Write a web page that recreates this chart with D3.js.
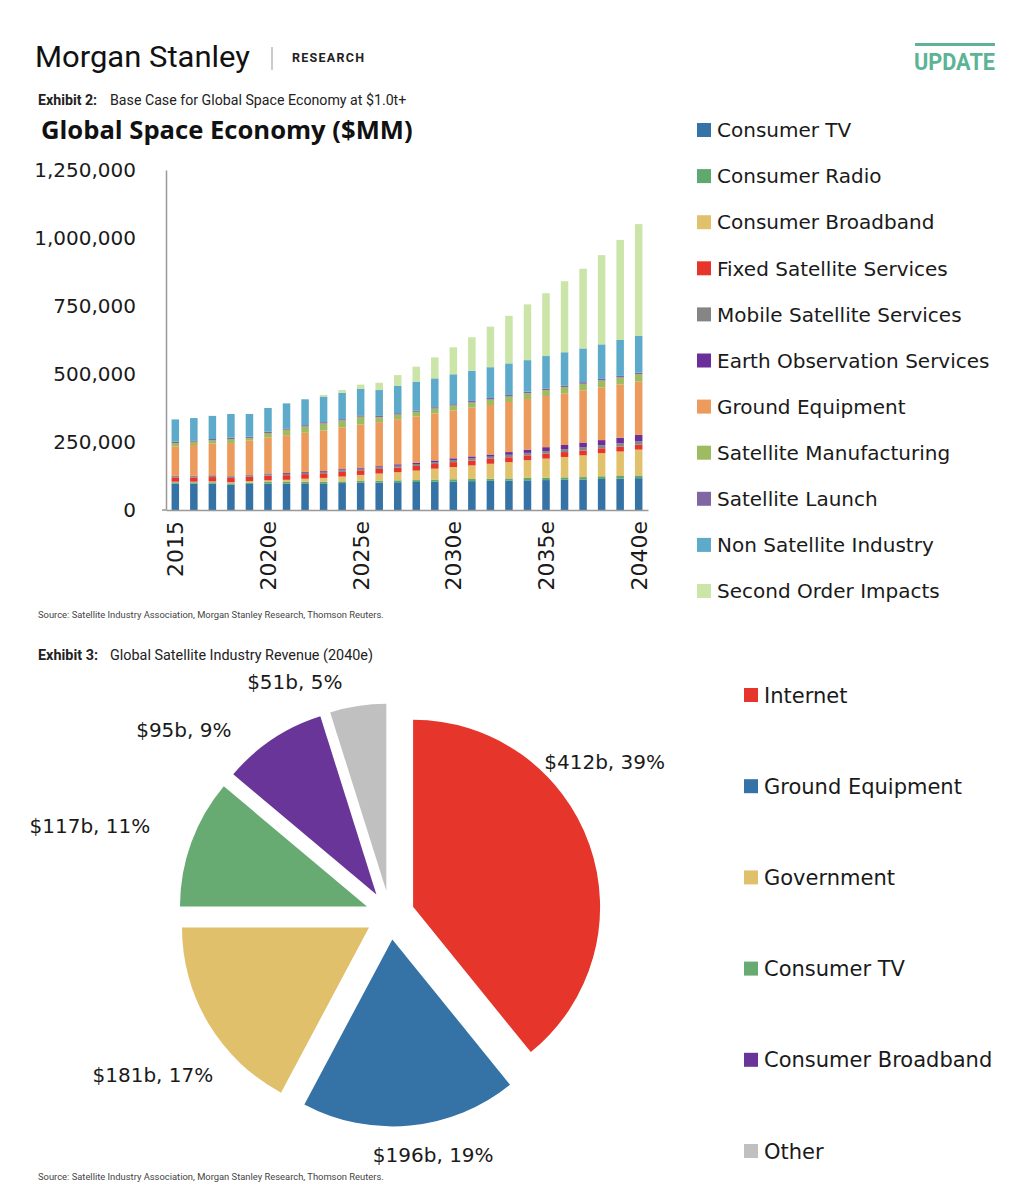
<!DOCTYPE html>
<html>
<head>
<meta charset="utf-8">
<script src="https://cdn.jsdelivr.net/npm/d3@7/dist/d3.min.js"></script>
<style>
  html, body { margin: 0; padding: 0; background: #fff; }
  svg { display: block; }
</style>
</head>
<body>
<svg id="chart" width="1024" height="1200"></svg>
<script>
// ---------------- DATA ----------------
const years = ["2015","2016","2017e","2018e","2019e","2020e","2021e","2022e","2023e","2024e","2025e",
  "2026e","2027e","2028e","2029e","2030e","2031e","2032e","2033e","2034e","2035e","2036e","2037e","2038e","2039e","2040e"];
const yearTickLabels = ["2015","2020e","2025e","2030e","2035e","2040e"];
const yTickValues = [0, 250000, 500000, 750000, 1000000, 1250000];

const seriesNames = ["Consumer TV","Consumer Radio","Consumer Broadband","Fixed Satellite Services",
  "Mobile Satellite Services","Earth Observation Services","Ground Equipment","Satellite Manufacturing",
  "Satellite Launch","Non Satellite Industry","Second Order Impacts"];

// values in $MM
const consumerTV = [97000,97000,97000,93000,96000,97000,97000,98000,98000,99000,100000,101000,102000,103000,104000,105000,106000,107000,108000,109000,110000,111000,112000,114000,115000,117000];
const consumerRadio = [5000,5000,5000,5000,5000,6000,6000,6000,6000,6000,7000,7000,7000,7000,8000,8000,8000,8000,8000,9000,9000,9000,9000,10000,10000,10000];
const consumerBroadband = [2000,2000,3000,4000,5000,6000,8000,11000,14000,18000,22000,26000,30000,35000,40000,45000,50000,55000,60000,65000,70000,75000,80000,85000,90000,95000];
const fixedSatellite = [16000,16000,16000,16000,16000,17000,17000,17000,17000,17000,17000,17000,17000,17000,17000,18000,18000,18000,18000,18000,18000,18000,18000,18000,18000,18000];
const mobileSatellite = [4000,4000,4000,4000,4000,5000,5000,5000,5000,6000,6000,6000,7000,7000,7000,8000,8000,8000,9000,9000,10000,10000,11000,11000,12000,13000];
const earthObservation = [2000,2000,2000,2000,2000,3000,3000,3000,3000,4000,4000,4000,5000,5000,6000,6000,7000,8000,10000,12000,14000,16000,18000,19000,21000,23000];
const groundEquipment = [108000,113000,117000,122000,127000,133000,139000,144000,149000,154000,158000,162000,166000,170000,173000,176000,179000,182000,184000,186000,188000,190000,192000,194000,195000,196000];
const satelliteManufacturing = [12000,12000,12000,15000,10000,16000,20000,23000,26000,25000,29000,18000,17000,17000,18000,18000,19000,20000,20000,21000,22000,23000,24000,25000,26000,27000];
const satelliteLaunch = [5000,5000,5000,5000,5000,5000,5000,5000,5000,5000,5000,5000,5000,5000,5000,5000,6000,6000,6000,6000,6000,6000,6000,6000,6000,6000];
const nonSatellite = [82000,82000,85000,87000,83000,87000,92000,95000,94000,97000,98000,95000,100000,106000,106000,110000,111000,113000,116000,116000,119000,122000,124000,127000,132000,135000];
const secondOrder = [0,0,0,0,0,0,0,0,6000,10000,15000,27000,40000,55000,77000,99000,123000,149000,175000,205000,231000,261000,293000,328000,368000,411000];

const pieCategories = ["Internet","Ground Equipment","Government","Consumer TV","Consumer Broadband","Other"];
const pieValues = [412, 196, 181, 117, 95, 51];   // $b, 2040e
const pieLabels = ["$412b, 39%","$196b, 19%","$181b, 17%","$117b, 11%","$95b, 9%","$51b, 5%"];

// ---------------- STYLE ----------------
const barColors = ["#3572a5","#5fa86e","#e1c16c","#e8352b","#858585","#6a2f9a","#ec9b5c","#9dbb60","#8066a3","#5eaacb","#cbe4a8"];
const pieColors = ["#e6352a","#3572a5","#e0c06a","#67ab73","#6a3599","#c0c0c0"];
const ff = "'DejaVu Sans', Verdana, sans-serif";

const svg = d3.select("#chart");
svg.append("rect").attr("width",1024).attr("height",1200).attr("fill","#fff");

// ---------------- HEADER ----------------
svg.append("text").attr("x",35).attr("y",67).attr("font-family","Roboto, sans-serif")
  .attr("font-size",30).attr("fill","#111").attr("textLength",215).attr("lengthAdjust","spacingAndGlyphs")
  .text("Morgan Stanley");
svg.append("line").attr("x1",272).attr("x2",272).attr("y1",47).attr("y2",70).attr("stroke","#aaa").attr("stroke-width",1.2);
svg.append("text").attr("x",292).attr("y",62).attr("font-family","Roboto, sans-serif").attr("font-weight","bold")
  .attr("font-size",12.5).attr("fill","#222").attr("textLength",72).attr("lengthAdjust","spacing").text("RESEARCH");
svg.append("rect").attr("x",915).attr("y",43).attr("width",80).attr("height",3).attr("fill","#5cb396");
svg.append("text").attr("x",914).attr("y",70).attr("font-family","Roboto, sans-serif").attr("font-weight","bold")
  .attr("font-size",24).attr("fill","#5cb396").attr("textLength",81).attr("lengthAdjust","spacingAndGlyphs").text("UPDATE");

function exhibit(y, bold, rest, size) {
  const t = svg.append("text").attr("x",38).attr("y",y).attr("font-family","Roboto, sans-serif").attr("font-size",size).attr("fill","#222");
  t.append("tspan").attr("font-weight","bold").text(bold);
  t.append("tspan").attr("x",110).text(rest);
}
exhibit(105, "Exhibit 2:", "Base Case for Global Space Economy at $1.0t+", 14.2);
exhibit(660, "Exhibit 3:", "Global Satellite Industry Revenue (2040e)", 14.4);

svg.append("text").attr("x",41).attr("y",139).attr("font-family","'Open Sans', sans-serif").attr("font-weight","bold")
  .attr("font-size",25.6).attr("fill","#111").text("Global Space Economy ($MM)");

function source(y) {
  svg.append("text").attr("x",38).attr("y",y).attr("font-family","Roboto, sans-serif").attr("font-size",9.4)
    .attr("fill","#444").text("Source: Satellite Industry Association, Morgan Stanley Research, Thomson Reuters.");
}
source(618);
source(1180);

// ---------------- BAR CHART ----------------
const seriesArrays = [consumerTV, consumerRadio, consumerBroadband, fixedSatellite, mobileSatellite,
  earthObservation, groundEquipment, satelliteManufacturing, satelliteLaunch, nonSatellite, secondOrder];
const table = years.map((yr, i) => {
  const row = { year: yr };
  seriesNames.forEach((s, k) => row[s] = seriesArrays[k][i]);
  return row;
});
const stack = d3.stack().keys(seriesNames)(table);

const x = d3.scaleBand().domain(years).range([166, 648]).paddingInner(0.595).paddingOuter(0.3);
const y = d3.scaleLinear().domain([0, 1250000]).range([510, 170]);
const color = d3.scaleOrdinal().domain(seriesNames).range(barColors);

const gBars = svg.append("g");
gBars.selectAll("g").data(stack).join("g").attr("fill", d => color(d.key))
  .selectAll("rect").data(d => d).join("rect")
  .attr("x", d => x(d.data.year)).attr("width", x.bandwidth())
  .attr("y", d => y(d[1])).attr("height", d => Math.max(0, y(d[0]) - y(d[1])));

const yAxis = svg.append("g").attr("transform","translate(166,0)")
  .call(d3.axisLeft(y).tickValues(yTickValues).tickFormat(d3.format(",")).tickSize(0).tickPadding(30));
yAxis.select(".domain").attr("stroke","#999").attr("stroke-width",1.5);
yAxis.selectAll("text").attr("font-family",ff).attr("font-size",20).attr("fill","#1a1a1a");

const xAxis = svg.append("g").attr("transform","translate(0,510)")
  .call(d3.axisBottom(x).tickValues(years.filter(yv => yearTickLabels.includes(yv))).tickSize(0));
xAxis.select(".domain").attr("stroke","#999").attr("stroke-width",1.5);
xAxis.selectAll("text").attr("font-family",ff).attr("font-size",22).attr("fill","#1a1a1a")
  .attr("transform","rotate(-90)").attr("text-anchor","end").attr("x",-11).attr("y",0).attr("dy","0.36em");
svg.append("line").attr("x1",162).attr("x2",166).attr("y1",510).attr("y2",510).attr("stroke","#999").attr("stroke-width",1.5);

// bar legend
const legBar = svg.append("g");
seriesNames.forEach((s, i) => {
  const cy = 130 + i * 46.1;
  legBar.append("rect").attr("x",697).attr("y",cy - 7).attr("width",14).attr("height",14).attr("fill",color(s));
  legBar.append("text").attr("x",717).attr("y",cy).attr("dy","0.36em").attr("font-family",ff)
    .attr("font-size",20).attr("fill","#1a1a1a").text(s);
});

// ---------------- PIE CHART ----------------
const cx = 390, cyP = 915, R = 187, explode = 24.5;
const pie = d3.pie().sort(null).value(d => d)(pieValues);
const arc = d3.arc().innerRadius(0).outerRadius(R);
const gPie = svg.append("g").attr("transform", `translate(${cx},${cyP})`);
gPie.selectAll("path").data(pie).join("path")
  .attr("d", arc)
  .attr("fill", (d, i) => pieColors[i])
  .attr("transform", d => {
    const m = (d.startAngle + d.endAngle) / 2;
    return `translate(${explode * Math.sin(m)},${-explode * Math.cos(m)})`;
  });

// label placement (polar, degrees clockwise from top, distance from centre)
const labelPolar = [[54.4, 264], [169.8, 244], [236, 286], [286.5, 313], [311.9, 277], [337.8, 252]];
gPie.selectAll("text").data(pie).join("text")
  .attr("x", (d, i) => labelPolar[i][1] * Math.sin(labelPolar[i][0] * Math.PI / 180))
  .attr("y", (d, i) => -labelPolar[i][1] * Math.cos(labelPolar[i][0] * Math.PI / 180))
  .attr("dy","0.36em").attr("text-anchor","middle").attr("font-family",ff).attr("font-size",20).attr("fill","#1a1a1a")
  .text((d, i) => pieLabels[i]);

// pie legend
const legPie = svg.append("g");
pieCategories.forEach((c, i) => {
  const cy = 695 + i * 91.2;
  legPie.append("rect").attr("x",744).attr("y",cy - 7).attr("width",14).attr("height",14).attr("fill",pieColors[i]);
  legPie.append("text").attr("x",764).attr("y",cy).attr("dy","0.36em").attr("font-family",ff)
    .attr("font-size",21).attr("fill","#1a1a1a").text(c);
});
</script>
</body>
</html>
